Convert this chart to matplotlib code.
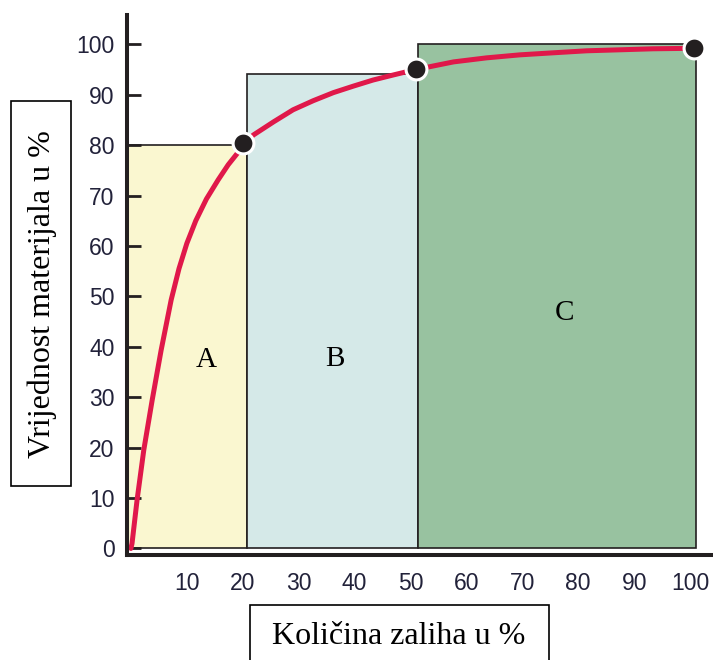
import matplotlib
matplotlib.use("Agg")
import matplotlib.pyplot as plt
from matplotlib.patches import Rectangle

# ABC zones: left edge, width, height (percent)
zone_names = ["A", "B", "C"]
zone_left = [-0.7, 20.7, 51.4]
zone_width = [21.4, 30.7, 49.6]
zone_height = [80, 94, 100]
zone_colors = ["#faf7d0", "#d5e9e8", "#98c2a0"]
zone_label_x = [13.5, 36.5, 77.5]
zone_label_y = [37.4, 37.5, 46.6]

# cumulative value curve
curve_x = [0, 0.2, 1.1, 2.3, 3.8, 5.4, 7.2, 8.6, 10.0, 11.6, 13.5, 15.6,
           17.4, 19.2, 20.1, 21.9, 25.5, 29.0, 32.6, 36.2, 39.8, 43.3,
           46.9, 51.0, 57.7, 63.6, 69.6, 75.5, 81.5, 87.5, 93.4, 100.7]
curve_y = [0, 1, 9.6, 19.5, 29.4, 39.3, 49.3, 55.5, 60.5, 65.0, 69.3, 73.1,
           76.1, 78.6, 80.2, 82, 84.6, 87, 88.8, 90.4, 91.7, 92.9,
           93.9, 95.0, 96.5, 97.3, 97.9, 98.3, 98.7, 98.9, 99.1, 99.2]

# the three boundary points
pts_x = [20.1, 51.0, 100.7]
pts_y = [80.4, 95.0, 99.2]

x_ticks = [10, 20, 30, 40, 50, 60, 70, 80, 90, 100]
y_ticks = [0, 10, 20, 30, 40, 50, 60, 70, 80, 90, 100]

fig = plt.figure(figsize=(7.13, 6.6), dpi=100)
ax = fig.add_axes([127 / 713, 1 - 555 / 660, 586 / 713, 540 / 660])

edge = "#231f20"
ax.bar(zone_left, zone_height, width=zone_width, align="edge",
       color=zone_colors, edgecolor=edge, linewidth=1.2, zorder=1)
for name, lx, ly in zip(zone_names, zone_label_x, zone_label_y):
    ax.text(lx, ly, name, ha="center", va="center", fontsize=21,
            family="Liberation Serif", color="black", zorder=5)

ax.plot(curve_x, curve_y, color="#e0184a", lw=3.6, solid_capstyle="round",
        solid_joinstyle="round", zorder=3)
ax.plot(pts_x, pts_y, "o", ms=15, mfc="#231f20", mec="white", mew=2.2,
        zorder=4, clip_on=False)

ax.set_xlim(-0.7, 104.1)
ax.set_ylim(-1.3, 105.8)
ax.set_xticks(x_ticks)
ax.set_yticks(y_ticks)

for s in ["top", "right"]:
    ax.spines[s].set_visible(False)
for s in ["left", "bottom"]:
    ax.spines[s].set_linewidth(2.9)
    ax.spines[s].set_color(edge)
    ax.spines[s].set_zorder(6)

lab_color = "#22223a"
ax.tick_params(axis="y", direction="in", length=10, width=2, color=edge,
               pad=9, labelsize=16.5, labelcolor=lab_color)
ax.tick_params(axis="x", length=0, pad=12, labelsize=16.5,
               labelcolor=lab_color)
for t in ax.get_xticklabels() + ax.get_yticklabels():
    t.set_family("Liberation Sans")

# boxed axis titles
fig.patches.append(Rectangle((11 / 713, 1 - 486 / 660), 60 / 713, 385 / 660,
                             transform=fig.transFigure, fill=False,
                             edgecolor="black", lw=1.2))
fig.text(42 / 713, 1 - 294 / 660, "Vrijednost materijala u %", rotation=90,
         ha="center", va="center", fontsize=23, family="Liberation Serif")
fig.patches.append(Rectangle((250 / 713, -10 / 660), 299 / 713, 65 / 660,
                             transform=fig.transFigure, fill=False,
                             edgecolor="black", lw=1.2))
fig.text(399 / 713, 1 - 636 / 660, "Količina zaliha u %", ha="center",
         va="center", fontsize=23, family="Liberation Serif")

fig.savefig("out.png", dpi=100)
